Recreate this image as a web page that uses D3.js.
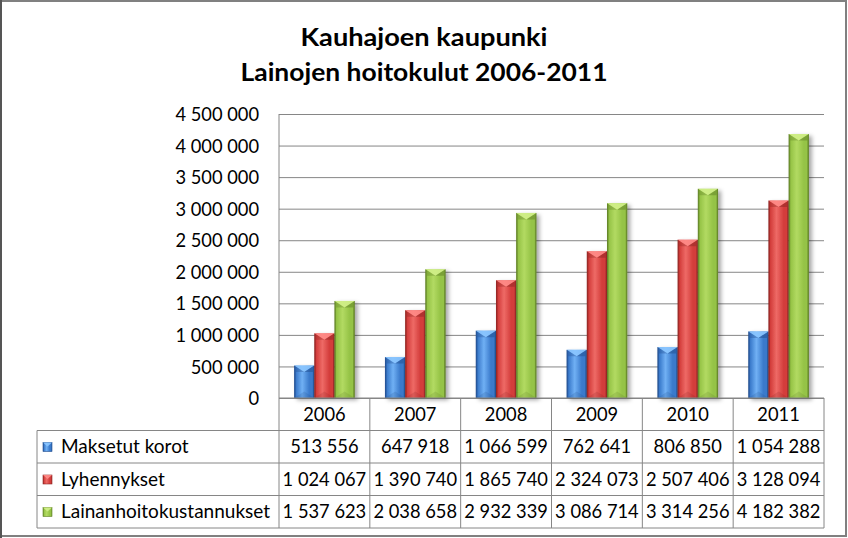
<!DOCTYPE html>
<html><head><meta charset="utf-8">
<script src="https://cdn.jsdelivr.net/npm/d3@7"></script>
<style>html,body{margin:0;padding:0;background:#fff}svg{display:block}text{font-family:Lato,"Open Sans",sans-serif}</style>
</head><body>
<script>
const titleLines = ["Kauhajoen kaupunki", "Lainojen hoitokulut 2006-2011"];
const years = ["2006", "2007", "2008", "2009", "2010", "2011"];
const seriesNames = ["Maksetut korot", "Lyhennykset", "Lainanhoitokustannukset"];
const maksetutKorot = [513556, 647918, 1066599, 762641, 806850, 1054288];
const lyhennykset = [1024067, 1390740, 1865740, 2324073, 2507406, 3128094];
const lainanhoitokustannukset = [1537623, 2038658, 2932339, 3086714, 3314256, 4182382];
const yTicks = [0, 500000, 1000000, 1500000, 2000000, 2500000, 3000000, 3500000, 4000000, 4500000];

(function () {
const seriesValues = [maksetutKorot, lyhennykset, lainanhoitokustannukset];
const palette = [
  {base: "#3a7acb", light: "#70b0f4", dark: "#224e8e", top: "#8cc6ff"},
  {base: "#d33d3b", light: "#ee6a66", dark: "#8e2523", top: "#ff8c88"},
  {base: "#95c346", light: "#b2da62", dark: "#5f7f26", top: "#d2f08a"}
];

const W = 848, H = 538;
const svg = d3.select("body").append("svg").attr("width", W).attr("height", H);
const defs = svg.append("defs");

palette.forEach((c, i) => {
  const g = defs.append("linearGradient").attr("id", "bar" + i).attr("x1", 0).attr("x2", 1).attr("y1", 0).attr("y2", 0);
  [[0, c.dark], [0.1, c.base], [0.4, c.light], [0.75, c.base], [0.92, c.base], [1, c.dark]].forEach(([o, col]) =>
    g.append("stop").attr("offset", o).attr("stop-color", col));
});
const f = defs.append("filter").attr("id", "shadow").attr("x", "-30%").attr("y", "-10%").attr("width", "170%").attr("height", "130%");
f.append("feDropShadow").attr("dx", 3).attr("dy", 2).attr("stdDeviation", 2).attr("flood-color", "#000").attr("flood-opacity", 0.35);

svg.append("rect").attr("x", 1).attr("y", 1).attr("width", W - 3).attr("height", H - 3)
  .attr("fill", "#fff").attr("stroke", "#808080").attr("stroke-width", 2);
svg.append("line").attr("x1", 1).attr("x2", 1).attr("y1", 0).attr("y2", H).attr("stroke", "#555").attr("stroke-width", 2);

const title = svg.append("g");
titleLines.forEach((t, i) => {
  title.append("text").attr("x", 424).attr("y", 46 + i * 34.5)
    .attr("text-anchor", "middle").attr("font-weight", 700).attr("font-size", 25)
    .attr("textLength", i === 0 ? 247 : 367).attr("lengthAdjust", "spacingAndGlyphs")
    .attr("fill", "#000").text(t);
});

const pL = 279, pR = 824, pT = 114, pB = 398;
const x0 = d3.scaleBand().domain(years).range([pL, pR]).padding(0);
const x1 = d3.scaleBand().domain(seriesNames).range([0, x0.bandwidth()]).paddingInner(0).paddingOuter(0.75);
const y = d3.scaleLinear().domain([0, 4500000]).range([pB, pT]);

const loc = d3.formatLocale({decimal: ",", thousands: "\u00a0", grouping: [3], currency: ["", " €"]});
const fmt = loc.format(",d");

const yAxis = d3.axisLeft(y).tickValues(yTicks).tickSize(-(pR - pL)).tickPadding(20).tickFormat(fmt);
const ga = svg.append("g").attr("transform", `translate(${pL},0)`).call(yAxis);
ga.select(".domain").attr("stroke", "#868686").attr("d", `M0,${pT}V${pB}`);
ga.selectAll(".tick line").attr("stroke", "#868686").attr("stroke-width", 1);
ga.selectAll(".tick text").attr("font-size", 18.3).attr("fill", "#000").attr("font-family", "Lato").attr("dy", "0.36em");

const barsG = svg.append("g");
seriesNames.forEach((s, si) => {
  const c = palette[si];
  years.forEach((yr, i) => {
    const v = seriesValues[si][i];
    const bx = x0(yr) + x1(s), bw = x1.bandwidth();
    const by = y(v), bh = pB - by;
    const g = barsG.append("g");
    g.append("rect").attr("x", bx).attr("y", by).attr("width", bw).attr("height", bh)
      .attr("fill", `url(#bar${si})`).attr("filter", "url(#shadow)");
    const tb = Math.min(6.5, bh / 2);
    g.append("path").attr("d", `M${bx},${by}L${bx + bw},${by}L${bx + bw / 2},${by + tb}Z`)
      .attr("fill", c.top).attr("opacity", 0.9);
    g.append("path").attr("d", `M${bx},${by}L${bx + bw / 2},${by + tb}L${bx + 1.5},${by + tb}L${bx + 1.5},${pB}L${bx},${pB}Z`)
      .attr("fill", c.dark).attr("opacity", 0.35);
    g.append("path").attr("d", `M${bx + bw},${by}L${bx + bw / 2},${by + tb}L${bx + bw - 1.5},${by + tb}L${bx + bw - 1.5},${pB}L${bx + bw},${pB}Z`)
      .attr("fill", c.dark).attr("opacity", 0.5);
    g.append("path").attr("d", `M${bx},${pB}L${bx + bw},${pB}L${bx + bw / 2},${pB - tb}Z`)
      .attr("fill", c.dark).attr("opacity", 0.2);
  });
});

const tableLeft = 37, rowH = 32.5;
const rowY = i => pB + i * rowH;
const tbl = svg.append("g");
const lineCol = "#868686";
tbl.append("line").attr("x1", pL).attr("x2", pR).attr("y1", rowY(0)).attr("y2", rowY(0)).attr("stroke", lineCol);
for (let r = 1; r <= 4; r++) {
  tbl.append("line").attr("x1", tableLeft).attr("x2", pR).attr("y1", rowY(r)).attr("y2", rowY(r)).attr("stroke", lineCol);
}
tbl.append("line").attr("x1", tableLeft).attr("x2", tableLeft).attr("y1", rowY(1)).attr("y2", rowY(4)).attr("stroke", lineCol);
years.forEach(yr => {
  tbl.append("line").attr("x1", x0(yr)).attr("x2", x0(yr)).attr("y1", rowY(0)).attr("y2", rowY(4)).attr("stroke", lineCol);
});
tbl.append("line").attr("x1", pR).attr("x2", pR).attr("y1", rowY(0)).attr("y2", rowY(4)).attr("stroke", lineCol);

years.forEach(yr => {
  tbl.append("text").attr("x", x0(yr) + x0.bandwidth() / 2).attr("y", rowY(0) + 23)
    .attr("text-anchor", "middle").attr("font-size", 18.3).attr("fill", "#000").text(yr);
});
seriesNames.forEach((s, si) => {
  const ry = rowY(si + 1);
  const c = palette[si];
  tbl.append("rect").attr("x", 43).attr("y", ry + 12).attr("width", 9).attr("height", 9)
    .attr("fill", `url(#bar${si})`).attr("stroke", c.dark).attr("stroke-width", 0.6);
  tbl.append("path").attr("d", `M43,${ry + 12}L52,${ry + 12}L47.5,${ry + 16}Z`).attr("fill", c.top).attr("opacity", 0.9);
  tbl.append("text").attr("x", 61).attr("y", ry + 22.5).attr("font-size", 19).attr("fill", "#000").text(s);
  years.forEach((yr, i) => {
    tbl.append("text").attr("x", x0(yr) + x0.bandwidth() / 2).attr("y", ry + 22.5)
      .attr("text-anchor", "middle").attr("font-size", 18.3).attr("fill", "#000").text(fmt(seriesValues[si][i]));
  });
});
})();
</script>
</body></html>
